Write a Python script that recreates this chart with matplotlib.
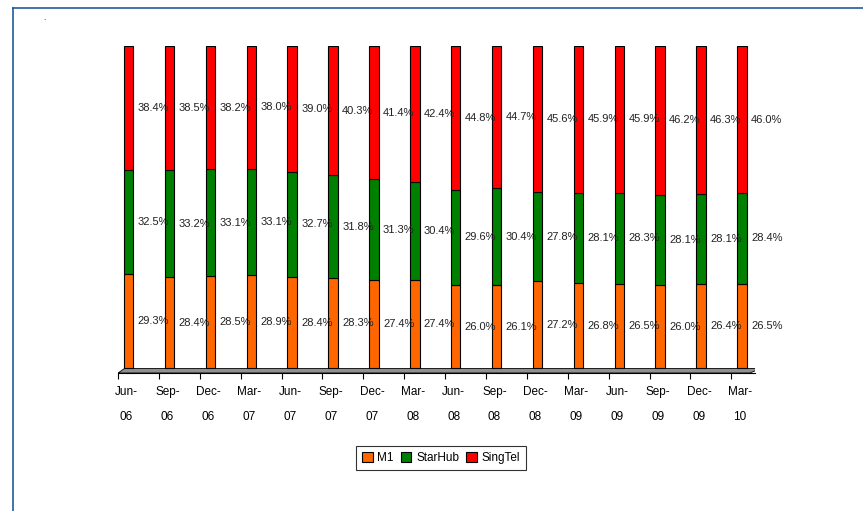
import matplotlib
matplotlib.use("Agg")
import matplotlib.pyplot as plt
import numpy as np
from matplotlib.lines import Line2D
from matplotlib.patches import Polygon

plt.rcParams['font.family'] = ['Liberation Sans', 'DejaVu Sans']

periodos = ['Jun-\n06', 'Sep-\n06', 'Dec-\n06', 'Mar-\n07', 'Jun-\n07', 'Sep-\n07',
            'Dec-\n07', 'Mar-\n08', 'Jun-\n08', 'Sep-\n08', 'Dec-\n08', 'Mar-\n09',
            'Jun-\n09', 'Sep-\n09', 'Dec-\n09', 'Mar-\n10']
m1 = [29.3, 28.4, 28.5, 28.9, 28.4, 28.3, 27.4, 27.4, 26.0, 26.1, 27.2, 26.8, 26.5, 26.0, 26.4, 26.5]
starhub = [32.5, 33.2, 33.1, 33.1, 32.7, 31.8, 31.3, 30.4, 29.6, 30.4, 27.8, 28.1, 28.3, 28.1, 28.1, 28.4]
singtel = [38.4, 38.5, 38.2, 38.0, 39.0, 40.3, 41.4, 42.4, 44.8, 44.7, 45.6, 45.9, 45.9, 46.2, 46.3, 46.0]

series = [('M1', m1, '#FF6600'), ('StarHub', starhub, '#008000'), ('SingTel', singtel, '#FF0000')]

fig = plt.figure(figsize=(8.63, 5.11), dpi=100)
ax = fig.add_axes([118 / 863, (511 - 373) / 511, (755 - 118) / 863, (373 - 46) / 511])

x = np.arange(len(periodos))
total = np.array(m1) + np.array(starhub) + np.array(singtel)
base = np.zeros(len(periodos))

# chão cinza do gráfico 3D
ax.add_patch(Polygon([[-0.26, -0.014], [15.2, -0.014], [15.45, 0.0], [-0.1, 0.0]],
                     closed=True, facecolor='#909090', edgecolor='black', linewidth=0.6, zorder=1))

for nome, valores, cor in series:
    frac = np.array(valores) / total
    ax.bar(x, frac, bottom=base, width=0.23, color=cor, edgecolor='black',
           linewidth=0.8, label=nome, zorder=2)
    for i in range(len(x)):
        ax.annotate(f'{valores[i]:.1f}%', (x[i] + 0.12, base[i] + frac[i] / 2),
                    xytext=(3, 0), textcoords='offset points', ha='left', va='center',
                    fontsize=8, color='#222222')
    base = base + frac

ax.set_xlim(-0.26, 15.32)
ax.set_ylim(-0.014, 1.0)
for lado in ['top', 'right', 'left']:
    ax.spines[lado].set_visible(False)
ax.spines['bottom'].set_linewidth(0.8)
ax.set_yticks([])
ax.set_xticks(x - 0.05)
ax.set_xticklabels(periodos, fontsize=8.5, linespacing=2.5)
ax.tick_params(axis='x', which='major', length=0, pad=9)
ax.set_xticks(x - 0.26, minor=True)
ax.tick_params(axis='x', which='minor', length=4, width=0.8)

ax.legend(loc='center', bbox_to_anchor=(441 / 863, 1 - 458 / 511),
          bbox_transform=fig.transFigure, ncol=3, fontsize=8.5, frameon=True,
          fancybox=False, edgecolor='black', handlelength=0.9, handleheight=0.9,
          handletextpad=0.4, columnspacing=0.6, borderpad=0.5)
leg = ax.get_legend()
leg.get_frame().set_linewidth(0.8)
for h in leg.legend_handles:
    h.set_edgecolor('black')

# moldura azul
fig.add_artist(Line2D([13 / 863, 13 / 863], [0, 1 - 8 / 511], color='#1F5C99', linewidth=1.2))
fig.add_artist(Line2D([13 / 863, 1], [1 - 8 / 511, 1 - 8 / 511], color='#1F5C99', linewidth=1.2))
fig.text(44 / 863, 1 - 22 / 511, '.', fontsize=6, ha='center', va='bottom')

plt.savefig('out.png', dpi=100)
